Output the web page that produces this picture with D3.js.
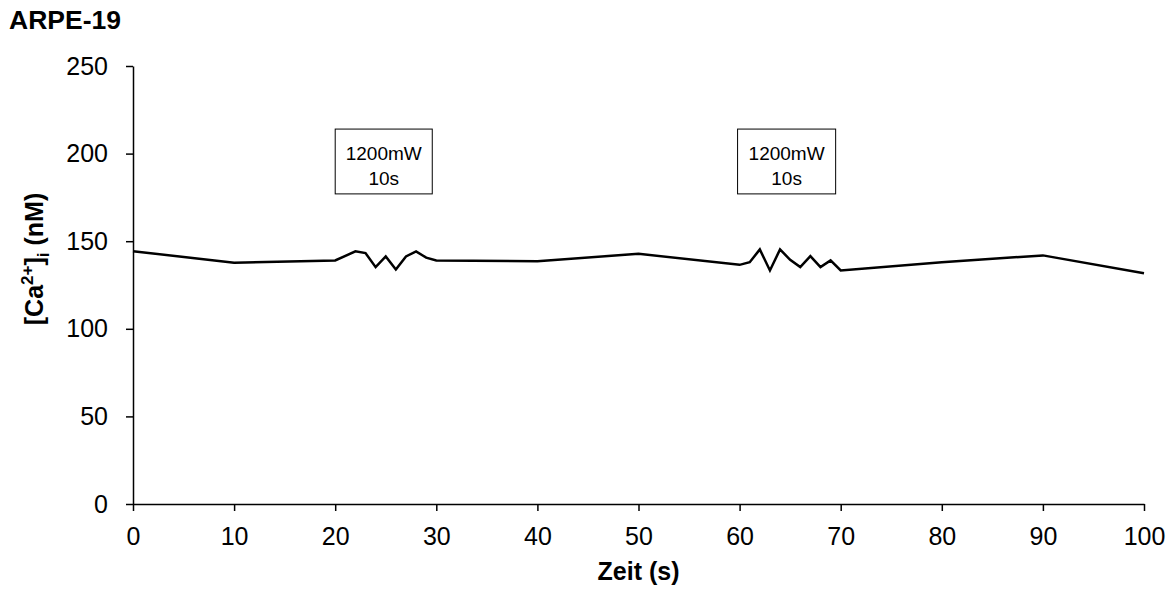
<!DOCTYPE html>
<html>
<head>
<meta charset="utf-8">
<script src="https://cdn.jsdelivr.net/npm/d3@7"></script>
<style>
  html, body { margin: 0; padding: 0; background: #fff; }
  svg { display: block; font-family: Arial, "Liberation Sans", sans-serif; }
</style>
</head>
<body>
<svg id="chart" width="1176" height="592"></svg>
<script>
// ---- data ----
const timeSec = [0, 10, 20, 22, 23, 24, 25, 26, 27, 28, 29, 30, 40, 50, 60, 61, 62, 63, 64, 65, 66, 67, 68, 69, 70, 80, 90, 100];
const calcium = [144.3, 137.7, 139, 144.2, 143.2, 135.2, 141.3, 133.9, 141.3, 144.2, 140.6, 139, 138.6, 142.8, 136.5, 138, 145.3, 133.3, 145.3, 139.4, 135.2, 141.5, 135.2, 139, 133.3, 138, 141.9, 131.7];
const xTicks = [0, 10, 20, 30, 40, 50, 60, 70, 80, 90, 100];
const yTicks = [0, 50, 100, 150, 200, 250];
const annotStart = [20, 59.8];
const annotEnd = [29.6, 69.5];
const annotLines = [["1200mW", "10s"], ["1200mW", "10s"]];
const annotTop = 214;
const annotBottom = 177;
const chartTitle = "ARPE-19";
const xTitle = "Zeit (s)";

// ---- layout ----
const svg = d3.select("#chart");
const mLeft = 133, mRight = 1144, mTop = 66, mBottom = 504;
const x = d3.scaleLinear().domain([0, 100]).range([mLeft, mRight]);
const y = d3.scaleLinear().domain([0, 250]).range([mBottom, mTop]);

// axes
const xAxis = svg.append("g").attr("transform", `translate(0,${mBottom})`)
  .call(d3.axisBottom(x).tickValues(xTicks).tickSize(7).tickPadding(16).tickSizeOuter(0));
const yAxis = svg.append("g").attr("transform", `translate(${mLeft},0)`)
  .call(d3.axisLeft(y).tickValues(yTicks).tickSize(7).tickPadding(18).tickSizeOuter(0));
[xAxis, yAxis].forEach(a => {
  a.select(".domain").attr("stroke", "#000").attr("stroke-width", 1.5);
  a.selectAll(".tick line").attr("stroke", "#000").attr("stroke-width", 1.5);
  a.selectAll(".tick text").attr("fill", "#000").style("font-size", "25px")
    .style("font-family", "Arial, 'Liberation Sans', sans-serif");
});

// line
const line = d3.line().x((d, i) => x(timeSec[i])).y(d => y(d));
svg.append("path").datum(calcium)
  .attr("d", line).attr("fill", "none").attr("stroke", "#000")
  .attr("stroke-width", 2.5).attr("stroke-linejoin", "miter");

// annotations
annotStart.forEach((s, i) => {
  const x0 = x(s), x1 = x(annotEnd[i]);
  const y0 = y(annotTop), y1 = y(annotBottom);
  svg.append("rect").attr("x", x0).attr("y", y0)
    .attr("width", x1 - x0).attr("height", y1 - y0)
    .attr("fill", "#fff").attr("stroke", "#000").attr("stroke-width", 1);
  const t = svg.append("text").attr("text-anchor", "middle")
    .style("font-size", "19px").attr("fill", "#000");
  annotLines[i].forEach((ln, j) => {
    t.append("tspan").attr("x", (x0 + x1) / 2).attr("y", y0 + 31 + j * 25).text(ln);
  });
});

// titles
svg.append("text").attr("x", 9).attr("y", 29)
  .style("font-size", "26.5px").style("font-weight", "bold").text(chartTitle);

svg.append("text").attr("x", (mLeft + mRight) / 2).attr("y", 580)
  .attr("text-anchor", "middle").style("font-size", "25px").style("font-weight", "bold")
  .text(xTitle);

const yt = svg.append("text")
  .attr("transform", `translate(43,259) rotate(-90)`)
  .attr("text-anchor", "middle").style("font-size", "25px").style("font-weight", "bold");
yt.append("tspan").text("[Ca");
yt.append("tspan").attr("dy", -10).style("font-size", "17px").text("2+");
yt.append("tspan").attr("dy", 10).text("]");
yt.append("tspan").attr("dy", 6).style("font-size", "17px").text("i");
yt.append("tspan").attr("dy", -6).text(" (nM)");
</script>
</body>
</html>
